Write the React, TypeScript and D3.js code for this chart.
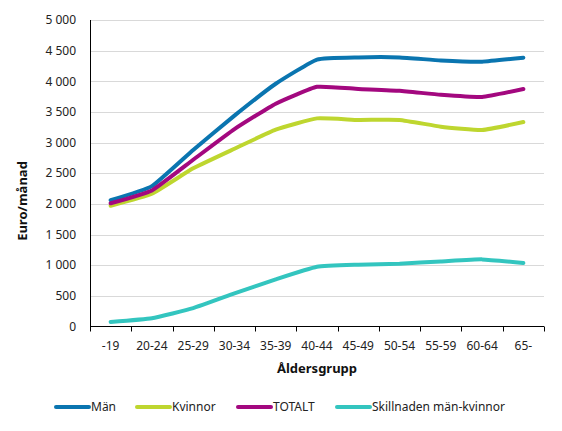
import {useEffect, useRef} from 'react';
import * as d3 from 'd3';

const categories = ['-19', '20-24', '25-29', '30-34', '35-39', '40-44', '45-49', '50-54', '55-59', '60-64', '65-'];
const man = [2060, 2290, 2880, 3440, 3960, 4355, 4390, 4390, 4340, 4320, 4385];
const kvinnor = [1970, 2165, 2580, 2900, 3210, 3395, 3370, 3370, 3260, 3205, 3335];
const totalt = [2010, 2220, 2720, 3220, 3635, 3910, 3875, 3845, 3780, 3745, 3875];
const skillnad = [75, 135, 300, 540, 770, 975, 1008, 1025, 1060, 1095, 1035];
const yTicks = [0, 500, 1000, 1500, 2000, 2500, 3000, 3500, 4000, 4500, 5000];

const series = [
  {name: 'Män', values: man, color: '#0a75b0'},
  {name: 'Kvinnor', values: kvinnor, color: '#bed62f'},
  {name: 'TOTALT', values: totalt, color: '#a3087f'},
  {name: 'Skillnaden män-kvinnor', values: skillnad, color: '#33c5bf'},
];

const W = 562;
const H = 431;
const font = '"Noto Sans", sans-serif';

const App = () => {
  const ref = useRef<SVGSVGElement>(null);

  useEffect(() => {
    const svg = d3.select(ref.current);
    svg.selectAll('*').remove();

    const left = 90;
    const right = 544;
    const top = 20;
    const bottom = 326.5;

    const x = d3.scaleBand().domain(categories).range([left, right]);
    const y = d3.scaleLinear().domain([0, 5000]).range([bottom, top]);
    const fmt = (d: number) => d3.format(',')(d).replace(/,/g, ' ');

    // grid
    svg
      .append('g')
      .selectAll('line')
      .data(yTicks.slice(1))
      .enter()
      .append('line')
      .attr('x1', left)
      .attr('x2', right)
      .attr('y1', (d) => Math.round(y(d)) + 0.5)
      .attr('y2', (d) => Math.round(y(d)) + 0.5)
      .attr('stroke', '#d9d9d9')
      .attr('stroke-width', 1);

    // y labels
    svg
      .append('g')
      .selectAll('text')
      .data(yTicks)
      .enter()
      .append('text')
      .attr('x', 76)
      .attr('y', (d) => y(d))
      .attr('dy', '0.35em')
      .attr('text-anchor', 'end')
      .attr('font-family', font)
      .attr('font-size', 12)
      .attr('fill', '#222')
      .text((d) => fmt(d));

    // axes lines
    svg
      .append('line')
      .attr('x1', left + 0.5)
      .attr('x2', left + 0.5)
      .attr('y1', top)
      .attr('y2', bottom)
      .attr('stroke', '#000');
    svg
      .append('line')
      .attr('x1', left)
      .attr('x2', right)
      .attr('y1', bottom)
      .attr('y2', bottom)
      .attr('stroke', '#000');

    // x ticks
    const tickXs = categories.map((c) => x(c)!).concat([right]);
    svg
      .append('g')
      .selectAll('line')
      .data(tickXs)
      .enter()
      .append('line')
      .attr('x1', (d) => Math.round(d) + 0.5)
      .attr('x2', (d) => Math.round(d) + 0.5)
      .attr('y1', bottom)
      .attr('y2', bottom + 5)
      .attr('stroke', '#000');

    svg
      .append('g')
      .selectAll('text')
      .data(categories)
      .enter()
      .append('text')
      .attr('x', (d) => x(d)! + x.bandwidth() / 2)
      .attr('y', 346)
      .attr('dy', '0.35em')
      .attr('text-anchor', 'middle')
      .attr('font-family', font)
      .attr('font-size', 12)
      .attr('fill', '#222')
      .text((d) => d);

    // axis titles
    svg
      .append('text')
      .attr('x', (left + right) / 2)
      .attr('y', 368)
      .attr('dy', '0.35em')
      .attr('text-anchor', 'middle')
      .attr('font-family', font)
      .attr('font-size', 13)
      .attr('font-weight', 'bold')
      .attr('fill', '#111')
      .text('Åldersgrupp');

    svg
      .append('text')
      .attr('transform', 'translate(22,201) rotate(-90)')
      .attr('dy', '0.35em')
      .attr('text-anchor', 'middle')
      .attr('font-family', font)
      .attr('font-size', 13)
      .attr('font-weight', 'bold')
      .attr('fill', '#111')
      .text('Euro/månad');

    // lines (lightly smoothed, like the source)
    const line = d3
      .line<number>()
      .x((_, i) => x(categories[i])! + x.bandwidth() / 2)
      .y((d) => y(d))
      .curve(d3.curveCardinal.tension(0.6));

    series.forEach((s) => {
      svg
        .append('path')
        .datum(s.values)
        .attr('fill', 'none')
        .attr('stroke', s.color)
        .attr('stroke-width', 4)
        .attr('stroke-linecap', 'round')
        .attr('stroke-linejoin', 'round')
        .attr('d', line);
    });

    // legend
    const legendX = [56, 137, 238, 337];
    const legend = svg
      .append('g')
      .selectAll('g')
      .data(series)
      .enter()
      .append('g')
      .attr('transform', (_, i) => `translate(${legendX[i]},407)`);
    legend
      .append('line')
      .attr('x1', 0)
      .attr('x2', 33)
      .attr('stroke', (d) => d.color)
      .attr('stroke-width', 4)
      .attr('stroke-linecap', 'round');
    legend
      .append('text')
      .attr('x', 35)
      .attr('dy', '0.35em')
      .attr('font-family', font)
      .attr('font-size', 12)
      .attr('fill', '#222')
      .text((d) => d.name);
  }, []);

  return (
    <svg
      ref={ref}
      width={W}
      height={H}
      style={{position: 'absolute', left: 0, top: 0, background: '#fff'}}
    />
  );
};

export default App;
